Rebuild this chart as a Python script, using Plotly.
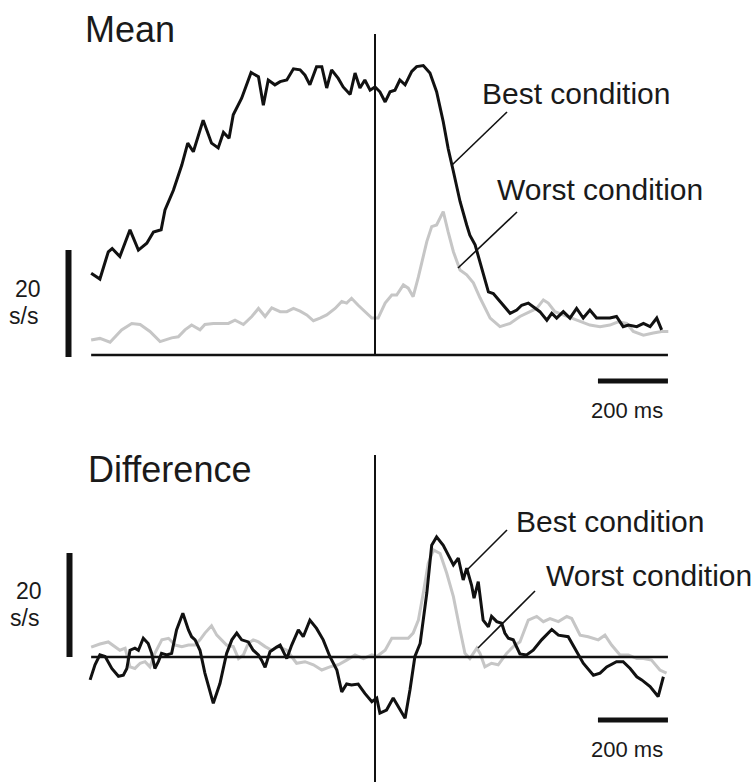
import plotly.graph_objects as go

# ---------------- data (time in ms relative to event, rate in spikes/s) ----------------
mean_best_t = [-811, -786, -762, -751, -729, -700, -676, -652, -633, -611, -600, -576, -552, -535,
               -519, -491, -467, -448, -433, -417, -405, -381, -354, -333, -319, -305, -286, -271,
               -252, -233, -214, -200, -186, -167, -152, -138, -124, -105, -91, -71, -57, -43, -29,
               -14, 0, 14, 29, 43, 57, 71, 86, 105, 119, 138, 157, 176, 195, 209, 224, 243, 262,
               271, 286, 300, 324, 338, 362, 386, 405, 419, 438, 452, 471, 491, 505, 519, 538, 557,
               576, 595, 614, 633, 652, 671, 690, 709, 724, 748, 767, 786, 805, 819]
mean_best = [15.3, 14.2, 19.3, 19.9, 18.4, 23.4, 19.6, 20.9, 23.0, 23.4, 27.1, 30.8, 35.5, 39.6,
             38.0, 43.9, 39.6, 38.7, 41.6, 40.5, 44.9, 48.0, 52.8, 52.0, 46.7, 51.4, 50.5, 51.1,
             51.4, 53.5, 53.3, 52.3, 50.5, 53.9, 53.9, 49.9, 53.3, 51.7, 50.1, 48.7, 52.7, 49.9,
             51.4, 49.5, 50.1, 49.2, 47.3, 49.2, 49.5, 51.4, 50.5, 53.0, 53.9, 54.1, 52.7, 49.2,
             43.6, 38.6, 34.3, 28.7, 24.3, 22.4, 20.6, 17.4, 11.8, 11.5, 9.7, 7.8, 8.4, 9.3, 9.7,
             9.0, 8.1, 6.5, 7.8, 6.9, 8.1, 6.9, 8.7, 6.9, 8.4, 6.9, 6.9, 6.9, 7.2, 5.3, 5.6, 5.3,
             5.9, 5.3, 6.9, 4.7]

mean_worst_t = [-811, -786, -757, -724, -695, -671, -643, -614, -581, -562, -543, -524, -500, -486,
                -462, -419, -400, -376, -352, -333, -314, -295, -271, -252, -233, -214, -195, -176,
                -157, -138, -114, -95, -81, -67, -48, -29, -9, 9, 29, 48, 62, 81, 95, 109, 124, 148,
                162, 176, 195, 209, 224, 243, 262, 281, 300, 329, 357, 386, 414, 443, 462, 481, 495,
                514, 538, 557, 586, 614, 643, 671, 695, 719, 738, 767, 795, 819, 838]
mean_worst = [2.8, 3.1, 2.4, 4.7, 5.9, 5.7, 4.4, 2.5, 3.2, 3.4, 4.7, 5.6, 4.7, 5.7, 5.9, 5.9, 6.5,
              5.7, 7.2, 8.7, 7.2, 8.8, 8.1, 8.1, 8.7, 8.2, 7.5, 6.4, 6.9, 7.5, 8.7, 10.0, 9.7, 10.6,
              9.3, 8.1, 6.9, 6.9, 9.7, 11.2, 11.2, 13.1, 12.5, 10.9, 14.6, 21.2, 24.0, 24.3, 26.8,
              23.0, 19.3, 15.9, 15.0, 13.5, 10.7, 6.9, 5.3, 5.9, 7.2, 8.1, 8.7, 10.3, 9.7, 8.1, 7.5,
              6.9, 6.2, 5.6, 5.3, 5.6, 6.2, 5.9, 4.4, 3.7, 4.1, 4.4, 4.4]

diff_best_t = [-814, -800, -786, -771, -752, -733, -719, -709, -700, -686, -676, -662, -648, -638,
               -629, -619, -610, -595, -581, -567, -549, -533, -524, -514, -500, -486, -462, -443,
               -424, -409, -395, -381, -362, -348, -333, -324, -314, -300, -281, -271, -252, -238,
               -219, -205, -186, -167, -148, -129, -109, -95, -81, -67, -48, -29, -9, 5, 14, 33, 52,
               67, 86, 100, 114, 129, 148, 162, 176, 195, 209, 224, 238, 252, 262, 276, 283, 295,
               309, 324, 333, 348, 362, 371, 381, 395, 414, 433, 452, 476, 505, 524, 552, 571, 595,
               624, 643, 662, 690, 709, 729, 748, 762, 786, 809, 824]
diff_best = [-4.4, -1.5, 0.4, 0.1, -2.2, -3.7, -3.5, -2.2, 1.3, 1.7, 1.3, 3.6, 2.6, 0.7, -2.2, -0.9,
             0.7, 0.4, 0.7, 5.2, 8.4, 5.2, 3.9, 3.3, 1.3, -3.1, -8.9, -5.1, 0.7, 3.3, 4.6, 3.3, 2.9,
             1.3, 0.4, -0.6, -2.0, 1.0, 1.9, 2.3, -0.3, 2.3, 5.2, 3.9, 7.1, 5.5, 3.3, 0.1, -2.5,
             -6.7, -5.2, -5.4, -5.2, -7.0, -8.6, -7.9, -10.8, -10.2, -7.9, -9.6, -11.8, -6.3, 0.1,
             2.6, 12.3, 21.5, 23.1, 21.5, 19.6, 17.7, 19.0, 14.8, 17.1, 13.8, 11.3, 14.5, 7.1, 5.8,
             7.8, 6.8, 6.5, 4.6, 3.6, 3.3, 0.6, 0.4, 1.3, 3.3, 5.3, 4.2, 3.9, 1.7, -1.2, -3.5, -3.1,
             -1.9, -0.9, -0.9, -2.2, -3.8, -4.4, -5.7, -7.6, -3.8]

diff_worst_t = [-811, -786, -762, -743, -729, -714, -700, -686, -671, -657, -643, -629, -609, -590,
                -571, -552, -533, -514, -500, -486, -467, -452, -438, -424, -405, -390, -376, -362,
                -348, -333, -314, -295, -276, -252, -224, -200, -176, -152, -129, -105, -81, -57,
                -33, -9, 5, 29, 48, 71, 95, 109, 124, 138, 152, 167, 186, 205, 224, 243, 257, 271,
                291, 300, 314, 333, 352, 376, 400, 414, 438, 462, 481, 500, 524, 548, 562, 586, 609,
                638, 657, 676, 700, 724, 748, 767, 790, 814, 833]
diff_worst = [1.9, 2.5, 2.9, 2.0, 1.3, 1.7, -1.9, -2.2, -1.2, -0.9, -1.9, 0.7, 3.3, 3.6, 2.3, 2.0,
              2.3, 2.3, 3.3, 4.6, 6.0, 4.2, 3.3, 2.3, 2.0, -0.3, 0.4, 2.6, 3.3, 2.9, 2.0, 1.3, 2.0,
              1.3, -1.2, -0.9, -1.5, -2.5, -1.9, -1.5, -0.6, 0.4, -0.3, 0.4, 0.1, 1.3, 3.6, 3.6, 3.6,
              4.6, 7.1, 12.3, 18.0, 20.6, 19.9, 16.1, 11.6, 5.2, 0.7, -0.3, 1.7, 0.7, -1.9, -1.2,
              -1.5, 0.7, 2.3, 2.9, 7.1, 7.8, 6.8, 7.4, 6.8, 7.8, 7.4, 4.2, 3.9, 3.3, 4.2, 2.3, 0.4,
              0.4, -0.3, -0.3, -0.6, -2.5, -3.1]

panel_titles = ["Mean", "Difference"]
series_names = ["Best condition", "Worst condition"]
rate_scale = 20      # s/s scale bar
time_scale = 200     # ms scale bar
time_start, time_end = -811, 837

# ---------------- layout geometry (pixels) ----------------
W, H = 755, 782
X0_PX = 375.0          # pixel of t = 0
PX_PER_MS = 0.35
TOP_ZERO_PX, TOP_PX_PER_UNIT = 355.0, 5.35
BOT_ZERO_PX, BOT_PX_PER_UNIT = 657.0, 5.2

x_range = [(0 - X0_PX) / PX_PER_MS, (W - X0_PX) / PX_PER_MS]
y_top_range = [(TOP_ZERO_PX - H) / TOP_PX_PER_UNIT, TOP_ZERO_PX / TOP_PX_PER_UNIT]
y_bot_range = [(BOT_ZERO_PX - H) / BOT_PX_PER_UNIT, BOT_ZERO_PX / BOT_PX_PER_UNIT]


def t_of(px):
    return (px - X0_PX) / PX_PER_MS


def vt(py):
    return (TOP_ZERO_PX - py) / TOP_PX_PER_UNIT


def vb(py):
    return (BOT_ZERO_PX - py) / BOT_PX_PER_UNIT


def paper(px, py):
    return px / W, 1 - py / H


BLACK = "#111111"
GRAY = "#c6c6c6"
FONT = "Liberation Sans, Arial, Helvetica, sans-serif"

fig = go.Figure()
fig.add_trace(go.Scatter(x=mean_worst_t, y=mean_worst, mode="lines", name=series_names[1],
                         line=dict(color=GRAY, width=3), xaxis="x", yaxis="y"))
fig.add_trace(go.Scatter(x=mean_best_t, y=mean_best, mode="lines", name=series_names[0],
                         line=dict(color=BLACK, width=3), xaxis="x", yaxis="y"))
fig.add_trace(go.Scatter(x=diff_worst_t, y=diff_worst, mode="lines", name=series_names[1],
                         line=dict(color=GRAY, width=3), xaxis="x", yaxis="y2"))
fig.add_trace(go.Scatter(x=diff_best_t, y=diff_best, mode="lines", name=series_names[0],
                         line=dict(color=BLACK, width=3), xaxis="x", yaxis="y2"))

shapes = []
# baselines (zero lines)
shapes.append(dict(type="line", xref="x", yref="y", x0=time_start, x1=time_end, y0=0, y1=0,
                   line=dict(color=BLACK, width=2.5)))
shapes.append(dict(type="line", xref="x", yref="y2", x0=time_start, x1=time_end, y0=0, y1=0,
                   line=dict(color=BLACK, width=2.5)))
# event (t=0) lines
shapes.append(dict(type="line", xref="x", yref="y", x0=0, x1=0, y0=0, y1=vt(34),
                   line=dict(color=BLACK, width=2)))
shapes.append(dict(type="line", xref="x", yref="y2", x0=0, x1=0, y0=vb(782), y1=vb(455),
                   line=dict(color=BLACK, width=2)))
# rate scale bars
shapes.append(dict(type="line", xref="x", yref="y", x0=t_of(68.5), x1=t_of(68.5),
                   y0=vt(357), y1=vt(357) + rate_scale, line=dict(color=BLACK, width=6)))
shapes.append(dict(type="line", xref="x", yref="y2", x0=t_of(69.5), x1=t_of(69.5),
                   y0=0, y1=rate_scale, line=dict(color=BLACK, width=6)))
# time scale bars
shapes.append(dict(type="line", xref="x", yref="y", x0=time_end - time_scale, x1=time_end,
                   y0=vt(381), y1=vt(381), line=dict(color=BLACK, width=5)))
shapes.append(dict(type="line", xref="x", yref="y2", x0=time_end - time_scale, x1=time_end,
                   y0=vb(720), y1=vb(720), line=dict(color=BLACK, width=5)))
# leader lines for labels
for (xa, ya, xb, yb) in [(507, 112, 452, 165), (517, 212, 458, 268),
                         (507, 530, 465, 572), (535, 591, 478, 648)]:
    p0 = paper(xa, ya)
    p1 = paper(xb, yb)
    shapes.append(dict(type="line", xref="paper", yref="paper", x0=p0[0], y0=p0[1],
                       x1=p1[0], y1=p1[1], line=dict(color=BLACK, width=1.6)))

annotations = []


def add_text(text, px, py, size, anchor="left"):
    x, y = paper(px, py)
    annotations.append(dict(text=text, x=x, y=y, xref="paper", yref="paper", showarrow=False,
                            xanchor=anchor, yanchor="middle",
                            font=dict(family=FONT, size=size, color="#1a1a1a")))


add_text(panel_titles[0], 83, 29, 36)
add_text(panel_titles[1], 86, 469, 36)
add_text(series_names[0], 480, 93, 30)
add_text(series_names[1], 495, 190, 30)
add_text(series_names[0], 514, 521, 30)
add_text(series_names[1], 544, 575, 30)
add_text(str(rate_scale), 28, 289, 23, "center")
add_text("s/s", 23, 316, 23, "center")
add_text(str(rate_scale), 29, 591, 23, "center")
add_text("s/s", 24, 618, 23, "center")
add_text(f"{time_scale} ms", 627, 410, 22, "center")
add_text(f"{time_scale} ms", 627, 749, 22, "center")

fig.update_layout(
    width=W, height=H,
    margin=dict(l=0, r=0, t=0, b=0),
    paper_bgcolor="white", plot_bgcolor="white",
    showlegend=False,
    hovermode=False,
    xaxis=dict(range=x_range, visible=False, fixedrange=True),
    yaxis=dict(range=y_top_range, visible=False, domain=[0, 1], fixedrange=True),
    yaxis2=dict(range=y_bot_range, visible=False, overlaying="y", domain=[0, 1], fixedrange=True),
    shapes=shapes,
    annotations=annotations,
)

fig.write_html("out.html", config={"displayModeBar": False, "staticPlot": True},
               post_script="document.body.style.margin='0px';document.body.style.overflow='hidden';")
